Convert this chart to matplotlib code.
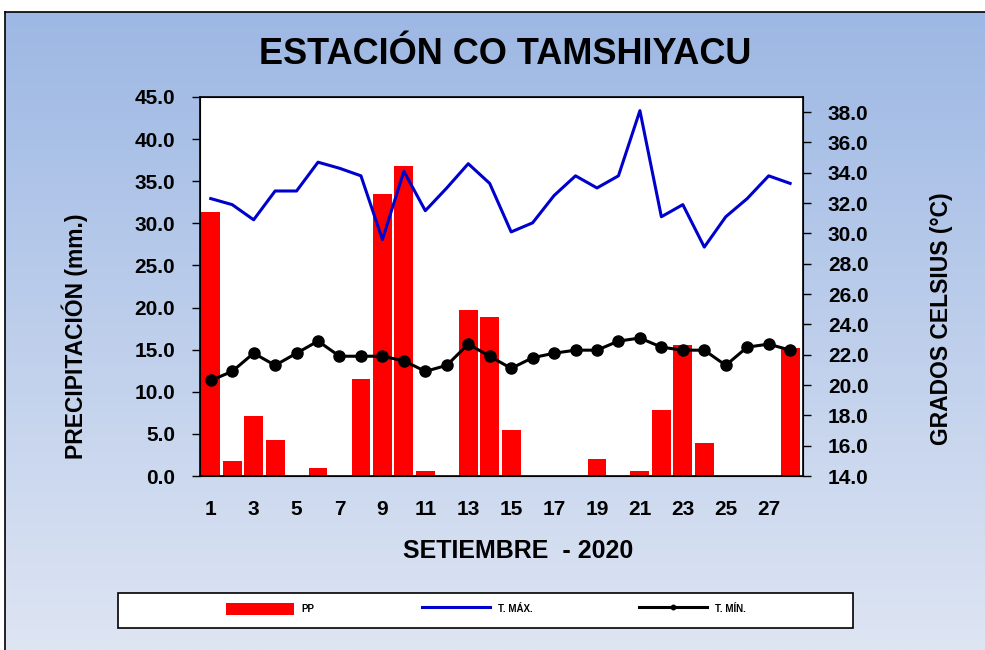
import numpy as np
import matplotlib
matplotlib.use("Agg")
import matplotlib.pyplot as plt
from matplotlib.patches import Rectangle

plt.rcParams['font.family'] = ['Liberation Sans', 'DejaVu Sans']
plt.rcParams['font.weight'] = 'bold'

# datos setiembre 2020
dias = np.arange(1, 29)
pp = [31.4, 1.8, 7.1, 4.3, 0.0, 1.0, 0.0, 11.5, 33.5, 36.8, 0.6, 0.0, 19.7, 18.9,
      5.5, 0.0, 0.0, 0.0, 2.0, 0.0, 0.6, 7.8, 15.6, 3.9, 0.0, 0.0, 0.0, 15.2]
t_max = [32.3, 31.9, 30.9, 32.8, 32.8, 34.7, 34.3, 33.8, 29.6, 34.1, 31.5, 33.0, 34.6, 33.3,
         30.1, 30.7, 32.5, 33.8, 33.0, 33.8, 38.1, 31.1, 31.9, 29.1, 31.1, 32.3, 33.8, 33.3]
t_min = [20.3, 20.9, 22.1, 21.3, 22.1, 22.9, 21.9, 21.9, 21.9, 21.6, 20.9, 21.3, 22.7, 21.9,
         21.1, 21.8, 22.1, 22.3, 22.3, 22.9, 23.1, 22.5, 22.3, 22.3, 21.3, 22.5, 22.7, 22.3]
xticks = np.arange(1, 28, 2)

fig = plt.figure(figsize=(9.85, 6.5), dpi=100)

# fondo degradado
bg = fig.add_axes([5/985, 0, 1 - 5/985, 1 - 12/650], zorder=-10)
grad = np.linspace(0, 1, 256).reshape(-1, 1)
top = np.array([157, 184, 228]) / 255
bot = np.array([222, 229, 243]) / 255
img = top + (bot - top) * grad[:, :, None]
bg.imshow(img, aspect='auto', extent=[0, 1, 0, 1])
bg.set_xticks([])
bg.set_yticks([])
for s in ['right', 'bottom']:
    bg.spines[s].set_visible(False)
bg.spines['left'].set_linewidth(1.2)
bg.spines['top'].set_linewidth(1.2)

ax = fig.add_axes([200/985, 1 - 476/650, 603/985, 379/650])
ax.set_facecolor('white')
ax.bar(dias, pp, width=0.88, color='#ff0000', label='PP', zorder=2)
ax.set_xlim(0.5, 28.6)
ax.set_ylim(0, 45)
ax.set_yticks(np.arange(0, 46, 5))
ax.set_yticklabels(['%.1f' % v for v in np.arange(0, 46, 5)], fontsize=15)
ax.set_xticks(xticks)
ax.set_xticklabels([str(d) for d in xticks], fontsize=15)
ax.tick_params(axis='x', length=0, pad=17)
ax.tick_params(axis='y', length=6, width=1, pad=12)
ax.set_ylabel('PRECIPITACIÓN (mm.)', fontsize=16.5, fontweight='bold')
ax.yaxis.set_label_coords(-0.186, 0.369)
ax.set_xlabel('SETIEMBRE  - 2020', fontsize=18, fontweight='bold')
ax.xaxis.set_label_coords(0.527, -0.166)
for s in ax.spines.values():
    s.set_linewidth(1.2)

ax2 = ax.twinx()
ax2.plot(dias, t_max, color='#0000cc', lw=2.2, label='T. MÁX.')
ax2.plot(dias, t_min, color='black', lw=2.2, marker='o', markersize=8, label='T. MÍN.')
ax2.set_ylim(14, 39)
ax2.set_yticks(np.arange(14, 39, 2))
ax2.set_yticklabels(['%.1f' % v for v in np.arange(14, 39, 2)], fontsize=15)
ax2.tick_params(axis='y', length=6, width=1, pad=12)
ax2.set_ylabel('GRADOS CELSIUS (°C)', fontsize=16.5, fontweight='bold')
ax2.yaxis.set_label_coords(1.211, 0.414)

fig.text(0.513, 1 - 55/650, 'ESTACIÓN CO TAMSHIYACU', ha='center', va='center',
         fontsize=26, fontweight='bold')

# cuadro de leyenda
fig.patches.append(Rectangle((118/985, 1 - 628/650), 735/985, 35/650, transform=fig.transFigure,
                             facecolor='white', edgecolor='black', lw=1.2, zorder=1))
h1, l1 = ax.get_legend_handles_labels()
h2, l2 = ax2.get_legend_handles_labels()
fig.legend(h1 + h2, l1 + l2, ncol=3, loc='center', bbox_to_anchor=(486/985, 1 - 609/650),
           frameon=False, fontsize=7, handlelength=7, handleheight=1.6,
           columnspacing=11, markerscale=0.4)

fig.savefig('out.png', dpi=100)
